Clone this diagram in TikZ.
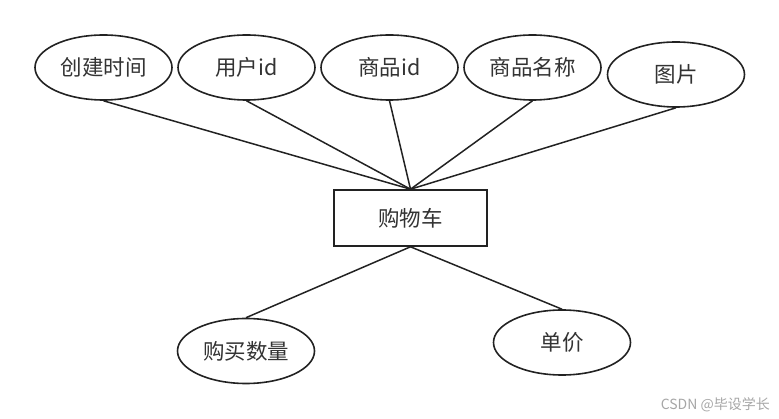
\documentclass[tikz,border=0pt]{standalone}
\usepackage{fontspec}
\newfontfamily\cjk{Noto Sans CJK SC}
\usetikzlibrary{shapes.geometric}
\definecolor{linec}{HTML}{222222}
\definecolor{textc}{HTML}{333333}
\begin{document}
\begin{tikzpicture}[x=1pt,y=-1pt,
  attr/.style={ellipse,draw=linec,line width=1.6pt,minimum width=137pt,minimum height=65pt,inner sep=0pt,font=\cjk\fontsize{21.5}{24}\selectfont,text=textc},
  ent/.style={rectangle,draw=linec,line width=1.6pt,minimum width=153pt,minimum height=56pt,inner sep=0pt,font=\cjk\fontsize{21.5}{24}\selectfont,text=textc},
  conn/.style={draw=linec,line width=1.5pt}]
\useasboundingbox (0,0) rectangle (779,419);
\node[attr] (a1) at (103.5,67.5) {创建时间};
\node[attr] (a2) at (246.5,67.5) {用户id};
\node[attr] (a3) at (389.5,67.5) {商品id};
\node[attr] (a4) at (532.5,67.5) {商品名称};
\node[attr] (a5) at (676,74.5) {图片};
\node[ent] (e) at (410.5,218) {购物车};
\node[attr] (b1) at (246,351) {购买数量};
\node[attr] (b2) at (562,342.5) {单价};
\draw[conn] (a1.south) -- (e.north);
\draw[conn] (a2.south) -- (e.north);
\draw[conn] (a3.south) -- (e.north);
\draw[conn] (a4.south) -- (e.north);
\draw[conn] (a5.south) -- (e.north);
\draw[conn] (e.south) -- (b1.north);
\draw[conn] (e.south) -- (b2.north);
\node[font=\cjk\fontsize{14}{16}\selectfont,text=black!35,anchor=east,inner sep=0pt] (wm) at (770,405) {CSDN @毕设学长};
\end{tikzpicture}
\end{document}
